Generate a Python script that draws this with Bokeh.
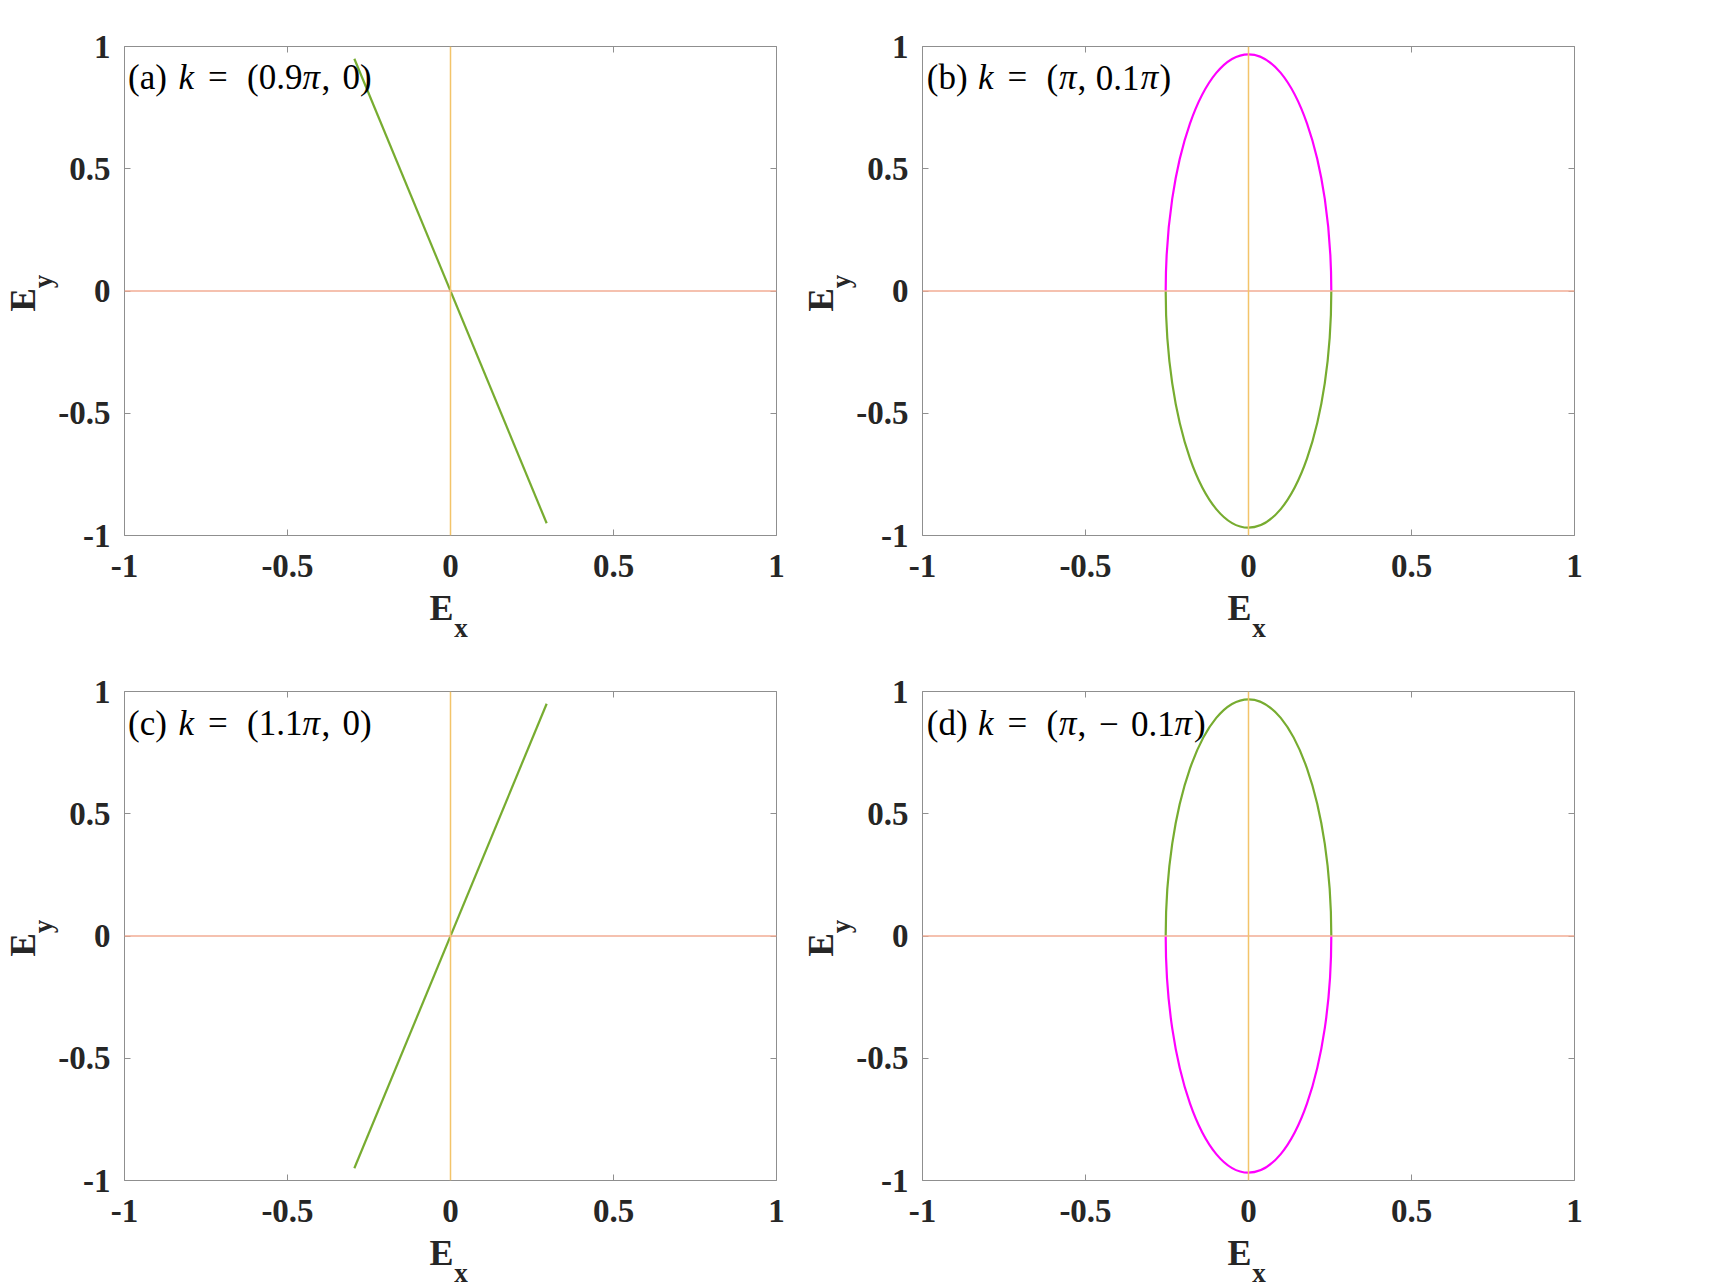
import numpy as np
from bokeh.plotting import figure
from bokeh.models import Label, LinearAxis, FixedTicker, Range1d, Span
from bokeh.layouts import column, row
from bokeh.embed import file_html
from bokeh.resources import INLINE

# ---------------- data ----------------
tick_values = [-1, -0.5, 0, 0.5, 1]
tick_labels = ["-1", "-0.5", "0", "0.5", "1"]

# (a) and (c): linear polarisation segments (Ex, Ey end points)
line_a_ex = [-0.295, 0.295]
line_a_ey = [0.95, -0.95]
line_c_ex = [-0.295, 0.295]
line_c_ey = [-0.95, 0.95]

# (b) and (d): elliptical polarisation, semi-axes (Ex, Ey)
ellipse_b_semi = [0.254, 0.968]
ellipse_d_semi = [0.254, 0.968]
# colour of upper / lower half of the ellipse
ellipse_b_colors = ["#FF00FF", "#77AC30"]
ellipse_d_colors = ["#77AC30", "#FF00FF"]

# panel titles: (text, offset from frame left in px, style)
title_a = [("(a)", 3.5, "normal"), ("k", 54, "italic"), ("=", 83.5, "normal"),
           ("(0.9", 122.5, "normal"), ("π", 178, "italic"), (",", 197, "normal"),
           ("0)", 218, "normal")]
title_b = [("(b)", 4.3, "normal"), ("k", 55.6, "italic"), ("=", 85, "normal"),
           ("(", 124, "normal"), ("π", 136.6, "italic"), (",", 155, "normal"),
           ("0.1", 173.3, "normal"), ("π", 218.3, "italic"), (")", 237, "normal")]
title_c = [("(c)", 3.5, "normal"), ("k", 54, "italic"), ("=", 83.5, "normal"),
           ("(1.1", 122.5, "normal"), ("π", 178, "italic"), (",", 197, "normal"),
           ("0)", 218, "normal")]
title_d = [("(d)", 4.3, "normal"), ("k", 55.6, "italic"), ("=", 85, "normal"),
           ("(", 124, "normal"), ("π", 136.6, "italic"), (",", 155, "normal"),
           ("−", 176.6, "normal"), ("0.1", 208.6, "normal"), ("π", 252, "italic"),
           (")", 271.6, "normal")]

# ---------------- styling ----------------
FW, FH = 652, 489
AX_COLOR = "#8f8f8f"
TXT_COLOR = "#262626"
GREEN = "#77AC30"
HLINE = "#F2AC95"
VLINE = "#F3C46A"
SERIF = "Liberation Serif"


def px_to_x(dx):
    return -1 + dx * 2.0 / FW


def px_to_y_from_top(dy):
    return 1 - dy * 2.0 / FH


def style_axis(ax, show):
    ax.ticker = FixedTicker(ticks=tick_values)
    ax.major_label_overrides = {v: (l if show else "") for v, l in zip(tick_values, tick_labels)}
    ax.major_tick_in = 6
    ax.major_tick_out = 0
    ax.minor_tick_line_color = None
    ax.axis_line_color = AX_COLOR
    ax.major_tick_line_color = AX_COLOR
    ax.major_label_text_font = SERIF
    ax.major_label_text_font_style = "bold"
    ax.major_label_text_font_size = "33px"
    ax.major_label_text_color = TXT_COLOR if show else None


def label_axis(ax, text, size, standoff):
    ax.axis_label = text
    ax.axis_label_text_font = SERIF
    ax.axis_label_text_font_style = "bold"
    ax.axis_label_text_font_size = size
    ax.axis_label_text_color = TXT_COLOR
    ax.axis_label_standoff = standoff


def sub_axis(text, size, standoff):
    ax = LinearAxis(ticker=FixedTicker(ticks=[]))
    ax.axis_line_color = None
    ax.major_tick_line_color = None
    ax.minor_tick_line_color = None
    ax.major_tick_in = 0
    ax.major_tick_out = 0
    ax.major_label_text_color = None
    label_axis(ax, text, size, standoff)
    return ax


def make_panel(bottom_border, title_pieces, title_y_px):
    p = figure(frame_width=FW, frame_height=FH,
               x_range=Range1d(-1, 1), y_range=Range1d(-1, 1),
               output_backend="svg", toolbar_location=None,
               min_border_left=124, min_border_right=22,
               min_border_top=46, min_border_bottom=bottom_border,
               background_fill_color="white", border_fill_color="white")
    p.outline_line_color = None
    p.xgrid.grid_line_color = None
    p.ygrid.grid_line_color = None
    bottom = p.below[0]
    left = p.left[0]
    style_axis(bottom, True)
    style_axis(left, True)
    bottom.major_label_standoff = 19
    left.major_label_standoff = 14
    top = LinearAxis()
    right = LinearAxis()
    style_axis(top, False)
    style_axis(right, False)
    p.add_layout(top, "above")
    p.add_layout(right, "right")

    # axis titles E_x and E_y (the second part is drawn by an extra, tick-less axis)
    label_axis(bottom, "E\u2002", "36px", 8)
    p.add_layout(sub_axis("\u2002\u2009\u200ax", "27px", -18), "below")
    label_axis(left, "\u2002\u2009y", "27px", -3)
    p.add_layout(sub_axis("E\u2002", "35px", -17), "left")

    p.add_layout(Span(location=0, dimension="width", line_color=HLINE, line_width=1.5))
    p.add_layout(Span(location=0, dimension="height", line_color=VLINE, line_width=1.5))

    ty = px_to_y_from_top(title_y_px)
    for txt, dx, style in title_pieces:
        p.add_layout(Label(x=px_to_x(dx), y=ty, text=txt, text_font=SERIF,
                           text_font_style=style, text_font_size="35px",
                           text_color="black", text_baseline="alphabetic",
                           text_align="left"))
    return p


def add_ellipse(p, semi, colors):
    a, b = semi
    k = 0.5523
    # upper half (two quarter arcs)
    p.bezier(x0=[0, 0], y0=[b, b], x1=[a, -a], y1=[0, 0],
             cx0=[k * a, -k * a], cy0=[b, b], cx1=[a, -a], cy1=[k * b, k * b],
             line_color=colors[0], line_width=2.2)
    # lower half
    p.bezier(x0=[0, 0], y0=[-b, -b], x1=[a, -a], y1=[0, 0],
             cx0=[k * a, -k * a], cy0=[-b, -b], cx1=[a, -a], cy1=[-k * b, -k * b],
             line_color=colors[1], line_width=2.2)


pa = make_panel(110, title_a, 31)
pa.line(line_a_ex, line_a_ey, line_color=GREEN, line_width=2.2)

pb = make_panel(110, title_b, 31)
add_ellipse(pb, ellipse_b_semi, ellipse_b_colors)

pc = make_panel(105, title_c, 32)
pc.line(line_c_ex, line_c_ey, line_color=GREEN, line_width=2.2)

pd = make_panel(105, title_d, 32)
add_ellipse(pd, ellipse_d_semi, ellipse_d_colors)

layout = column(row(pa, pb), row(pc, pd))

open("out.html", "w").write(file_html(layout, INLINE))
